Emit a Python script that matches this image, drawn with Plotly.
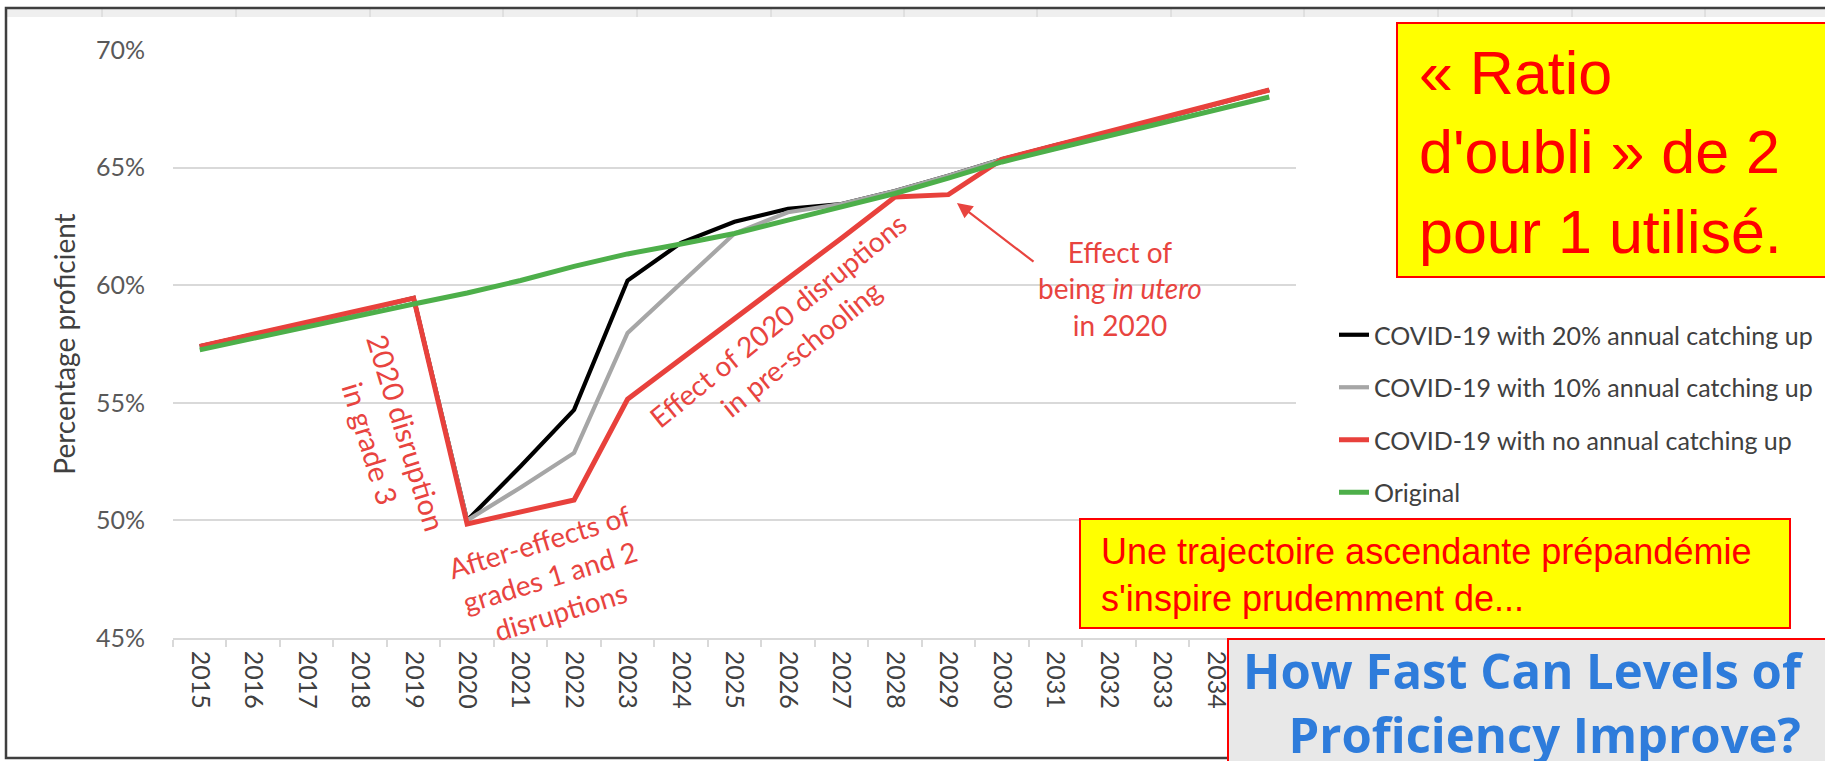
import plotly.graph_objects as go

# ---------------- data ----------------
years = ["2015", "2016", "2017", "2018", "2019", "2020", "2021", "2022", "2023", "2024",
         "2025", "2026", "2027", "2028", "2029", "2030", "2031", "2032", "2033", "2034", "2035"]

catch_20 = [57.40, 57.90, 58.40, 58.90, 59.45, 50.00, 52.30, 54.70, 60.20, 61.80,
            62.70, 63.25, 63.45, 64.00, 64.65, 65.35, 65.95, 66.50, 67.10, 67.70, 68.30]
catch_10 = [57.40, 57.90, 58.40, 58.90, 59.45, 50.00, 51.40, 52.87, 57.97, 60.10,
            62.20, 63.10, 63.45, 64.00, 64.65, 65.35, 65.95, 66.50, 67.10, 67.70, 68.30]
no_catch = [57.40, 57.90, 58.40, 58.90, 59.45, 49.85, 50.35, 50.87, 55.15, 56.85,
            58.55, 60.30, 62.00, 63.75, 63.85, 65.35, 65.95, 66.50, 67.10, 67.70, 68.30]
original = [57.25, 57.75, 58.25, 58.70, 59.20, 59.67, 60.20, 60.80, 61.33, 61.75,
            62.20, 62.77, 63.33, 63.90, 64.55, 65.24, 65.80, 66.35, 66.90, 67.45, 68.00]

series_names = ["COVID-19 with 20% annual catching up",
                "COVID-19 with 10% annual catching up",
                "COVID-19 with no annual catching up",
                "Original"]
y_ticks = [45, 50, 55, 60, 65, 70]
y_tick_labels = ["45%", "50%", "55%", "60%", "65%", "70%"]

# ---------------- styling ----------------
W, H = 1825, 761
L, R, T, B = 173, 1296, 50, 638
PW, PH = R - L, B - T

def px_x(px):
    return (px - L) / PW

def px_y(py):
    return (B - py) / PH

RED = "#E8413C"
TXT_RED = "#E8443F"
GREEN = "#4DAF4A"
GREY = "#A6A6A6"
BLACK = "#000000"
AX_TXT = "#404040"
GRID = "#D9D9D9"
CAL = "Lato"
ANN_SIZE = 28

fig = go.Figure()
styles = [(catch_20, BLACK, 4.2), (catch_10, GREY, 4.2), (no_catch, RED, 5), (original, GREEN, 5)]
for i, (vals, col, wd) in enumerate(styles):
    fig.add_trace(go.Scatter(x=years, y=vals, mode="lines", name=series_names[i],
                             line=dict(color=col, width=wd), legendgroup="g%d" % i,
                             hoverinfo="x+y+name"))

annotations = [
    dict(x=3.54, y=53.5, xref="x", yref="y", text="2020 disruption<br>in grade 3",
         textangle=73, showarrow=False, font=dict(family=CAL, size=29, color=TXT_RED)),
    dict(x=6.55, y=47.6, xref="x", yref="y", text="After-effects of<br>grades 1 and 2<br>disruptions",
         textangle=-17, showarrow=False, font=dict(family=CAL, size=ANN_SIZE, color=TXT_RED)),
    dict(x=11.02, y=57.93, xref="x", yref="y", text="Effect of 2020 disruptions<br>in pre-schooling",
         textangle=-39, showarrow=False, font=dict(family=CAL, size=ANN_SIZE, color=TXT_RED)),
    dict(x=17.21, y=59.88, xref="x", yref="y", text="Effect of<br>being <i>in utero</i><br>in 2020",
         showarrow=False, font=dict(family=CAL, size=ANN_SIZE, color=TXT_RED)),
    dict(x=14.16, y=63.5, xref="x", yref="y", ax=15.62, ay=60.95, axref="x", ayref="y",
         text="", showarrow=True, arrowhead=2, arrowsize=1.4, arrowwidth=2.2, arrowcolor=TXT_RED),
    # boxes' texts
    dict(x=px_x(1417), y=px_y(152), xref="paper", yref="paper", xanchor="left", yanchor="middle",
         align="left", showarrow=False, text="« Ratio<br>d'oubli » de 2<br>pour 1 utilisé.",
         font=dict(family="Liberation Sans", size=61, color="#FF0000")),
    dict(x=px_x(1099), y=px_y(575), xref="paper", yref="paper", xanchor="left", yanchor="middle",
         align="left", showarrow=False,
         text="Une trajectoire ascendante prépandémie<br>s'inspire prudemment de...",
         font=dict(family="Liberation Sans", size=36, color="#FF0000")),
    dict(x=px_x(1806), y=px_y(702), xref="paper", yref="paper", xanchor="right", yanchor="middle",
         align="right", showarrow=False,
         text="How Fast Can Levels of<br>Proficiency Improve?",
         font=dict(family="Open Sans", size=49, color="#2E7CDB", weight="bold")),
]

shapes = [
    dict(type="rect", xref="paper", yref="paper", x0=px_x(7), x1=px_x(1840), y0=px_y(17), y1=px_y(9),
         fillcolor="#EFEFEF", line=dict(width=0), layer="above"),
]
for sx in [102, 236, 370, 503, 637, 771, 904, 1037, 1171, 1304, 1438, 1572, 1705]:
    shapes.append(dict(type="line", xref="paper", yref="paper", x0=px_x(sx), x1=px_x(sx),
                       y0=px_y(17), y1=px_y(9), line=dict(color="#D0D0D0", width=1), layer="above"))
shapes += [
    dict(type="rect", xref="paper", yref="paper", x0=px_x(6), x1=px_x(1845), y0=px_y(758), y1=px_y(8),
         fillcolor="rgba(0,0,0,0)", line=dict(color="#3F3F3F", width=2.5), layer="above"),
    dict(type="rect", xref="paper", yref="paper", x0=px_x(1397), x1=px_x(1845), y0=px_y(277), y1=px_y(23),
         fillcolor="#FFFF00", line=dict(color="#FF0000", width=2), layer="above"),
    dict(type="rect", xref="paper", yref="paper", x0=px_x(1080), x1=px_x(1790), y0=px_y(628), y1=px_y(519),
         fillcolor="#FFFF00", line=dict(color="#FF0000", width=2), layer="above"),
    dict(type="rect", xref="paper", yref="paper", x0=px_x(1228), x1=px_x(1845), y0=px_y(775), y1=px_y(639),
         fillcolor="#E8E8E8", line=dict(color="#FF0000", width=2), layer="above"),
]

fig.update_layout(
    width=W, height=H, autosize=False,
    margin=dict(l=L, r=W - R, t=T, b=H - B, pad=0),
    paper_bgcolor="white", plot_bgcolor="white",
    showlegend=True,
    legend=dict(xref="container", yref="container", x=1334 / W, y=1 - 312 / H,
                xanchor="left", yanchor="top", traceorder="grouped", tracegroupgap=17,
                font=dict(family=CAL, size=25, color=AX_TXT), bgcolor="rgba(0,0,0,0)",
                borderwidth=0),
    xaxis=dict(type="category", range=[-0.5, 20.5], tickson="boundaries", ticks="outside",
               ticklen=7, tickcolor=GRID, tickwidth=1.5, showline=True, linecolor=GRID,
               linewidth=1.5, showgrid=False, tickangle=90, ticklabelstandoff=6,
               tickfont=dict(family=CAL, size=25, color=AX_TXT), automargin=False),
    yaxis=dict(range=[45, 70], tickmode="array", tickvals=y_ticks, ticktext=y_tick_labels,
               showgrid=True, gridcolor=GRID,
               gridwidth=1.5, zeroline=False, showline=False, ticks="", ticklabelstandoff=27,
               tickfont=dict(family=CAL, size=25, color="#595959"), automargin=False,
               title=dict(text="Percentage proficient", standoff=12,
                          font=dict(family=CAL, size=28, color=AX_TXT))),
    annotations=annotations,
    shapes=shapes,
)

fig.write_html("out.html", config={"displayModeBar": False},
               post_script="document.body.style.margin='0';document.body.style.overflow='hidden';")
